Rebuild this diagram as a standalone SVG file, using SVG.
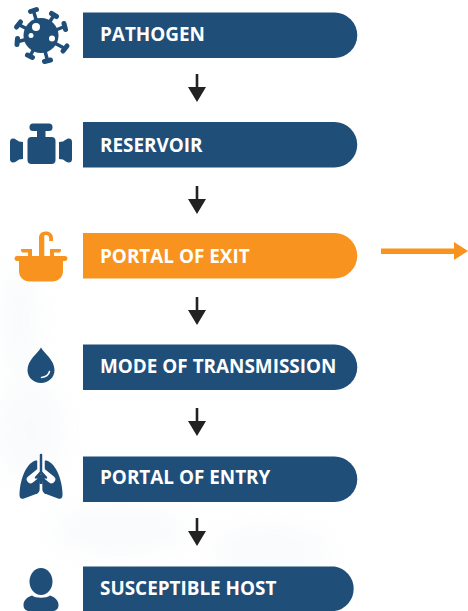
<svg xmlns="http://www.w3.org/2000/svg" width="468" height="611" viewBox="0 0 468 611">
<style>
.bar{fill:#1f4e79}
.icon{fill:#1f4e79}
.hole{fill:#fff}
.org{fill:#f7931e}
.lbl{font-family:"Open Sans","Liberation Sans",sans-serif;font-weight:700;font-size:18.900px;fill:#fff}
.spike{stroke:#1f4e79;stroke-width:3.500;stroke-linecap:round;fill:none}
.cap{stroke:#1f4e79;stroke-width:5;stroke-linecap:round;fill:none}
</style>
<defs>
<path id="bar" d="M83 0H334.500A22.500 22.500 0 0 1 334.500 45.500H83Z"/>
<g id="down"><path d="M-1.300 0H1.300V13H9L0 28L-9 13H-1.300Z" fill="#222"/></g>
<filter id="soft" x="-30%" y="-30%" width="160%" height="160%"><feGaussianBlur stdDeviation="12"/></filter>
</defs>
<rect width="468" height="611" fill="#fff"/>
<g id="background" filter="url(#soft)" fill="#dfe5ee" opacity="0.16">
<ellipse cx="20" cy="320" rx="18" ry="60"/>
<ellipse cx="30" cy="430" rx="35" ry="50"/>
<ellipse cx="120" cy="530" rx="70" ry="25"/>
<ellipse cx="270" cy="550" rx="60" ry="25"/>
</g>
<g id="connectors">
<use href="#down" x="197" y="74"/>
<use href="#down" x="197" y="186"/>
<use href="#down" x="197" y="297"/>
<use href="#down" x="197" y="408"/>
<use href="#down" x="197" y="518"/>
<path class="org" d="M381 248.500H454V242L468 251L454 260V254H381Z"/>
</g>
<g id="pathogen">
<use href="#bar" class="bar" y="12.500"/>
<text class="lbl" x="100" y="40.700">PATHOGEN</text>
<g>
<path class="spike" d="M41 36L33.500 11M41 36L54 15M41 36L64.500 26.500M41 36L65 48.500M41 36L47.500 60.500M41 36L30 56M41 36L18 41.500M41 36L18.500 24.500"/>
<path class="cap" d="M30.500 11.500L36.500 9.500M51.500 13.500L56.500 16.500M64 23.500L65.500 29.500M63 51L67 46M44.500 61.500L50.500 60M27.500 55L32.500 57.500M17.500 38.500L17 44.500M16.500 27L20.500 22"/>
<circle class="icon" cx="41" cy="35.500" r="17.500"/>
<circle class="hole" cx="36" cy="27" r="4"/>
<circle class="hole" cx="31" cy="35.500" r="2.500"/>
<circle class="hole" cx="52" cy="38.500" r="3"/>
</g>
</g>
<g id="reservoir">
<use href="#bar" class="bar" y="122"/>
<text class="lbl" x="100" y="151.500">RESERVOIR</text>
<g class="icon">
<rect x="29.500" y="123.500" width="23" height="7.500" rx="3.500"/>
<rect x="37" y="129" width="8.500" height="10"/>
<rect x="27.500" y="137" width="28" height="27" rx="4"/>
<path d="M13 138.500C15.500 138.500 17 140.500 19 141.500L23 142V159L19 159.500C17 160.500 15.500 162.500 13 162.500C11 162.500 10 161 10 159V142C10 140 11 138.500 13 138.500Z"/>
<path d="M69 138.500C66.500 138.500 65 140.500 63 141.500L59 142V159L63 159.500C65 160.500 66.500 162.500 69 162.500C71 162.500 72 161 72 159V142C72 140 71 138.500 69 138.500Z"/>
</g>
</g>
<g id="portal-of-exit">
<use href="#bar" class="org" y="233"/>
<text class="lbl" x="100" y="262.500">PORTAL OF EXIT</text>
<g class="org">
<path d="M39 257V238C39 233.500 42 231.500 46 231.500C50 231.500 53 234 53 238V241H49.200V238.500C49.200 236 48 235 46 235C44 235 44.300 236 44.300 238.500V257Z"/>
<path d="M21 249.500C21 249 21.500 249 22 249H32V256H28V252.500H22.500C21.500 252.500 21 251 21 249.500Z"/>
<path d="M61 249.500C61 249 60.500 249 60 249H50V256H54V252.500H59.500C60.500 252.500 61 251 61 249.500Z"/>
<path d="M17 256H65C66.500 256 67.500 257 67.500 258.300C67.500 259.800 66.500 261 65 261H63V271C63 277 58.500 281.500 52 281.500H30C23.500 281.500 19 277 19 271V261H17C15.500 261 14.500 259.800 14.500 258.300C14.500 257 15.500 256 17 256Z"/>
</g>
</g>
<g id="mode-of-transmission">
<use href="#bar" class="bar" y="344.500"/>
<text class="lbl" x="100" y="373.200">MODE OF TRANSMISSION</text>
<path class="icon" d="M41 347.500C44 353 54.500 360 54.500 370C54.500 377.500 48.500 383 41 383C33.500 383 27.500 377.500 27.500 370C27.500 360 38 353 41 347.500Z"/>
<path d="M41.500 377.500C45.500 377 48.500 375.500 49.500 371.500" fill="none" stroke="#fff" stroke-width="1.500" stroke-linecap="round"/>
</g>
<g id="portal-of-entry">
<use href="#bar" class="bar" y="456.500"/>
<text class="lbl" x="100" y="484.300">PORTAL OF ENTRY</text>
<g>
<path class="icon" d="M35.500 460.500C25 464 19.500 482 19.500 495C19.500 498 21 499.500 24 498.500L36 494C38.500 493 39.800 491.500 39.800 489V465C39.800 462 38 460 35.500 460.500Z"/>
<path class="icon" d="M46.500 460.500C57 464 62.500 482 62.500 495C62.500 498 61 499.500 58 498.500L46 494C43.500 493 42.200 491.500 42.200 489V465C42.200 462 44 460 46.500 460.500Z"/>
<path d="M41 459V471L30.500 479.500M41 471L51.500 479.500" fill="none" stroke="#fff" stroke-width="7.500" stroke-linecap="round" stroke-linejoin="round"/>
<path d="M41 455V472L36 477.500M41 472L46 477.500" fill="none" stroke="#1f4e79" stroke-width="2.500" stroke-linecap="round" stroke-linejoin="round"/>
<path d="M36 476.500L38 479.500C39 481 39.800 481.500 39.800 483V486H42.200V483C42.200 481.500 43 481 44 479.500L46 476.500L41 474Z" class="icon"/>
<path d="M41 484V499" stroke="#fff" stroke-width="2.400" fill="none"/>
</g>
</g>
<g id="susceptible-host">
<path class="bar" d="M83 566.500H334.500A22.500 22.500 0 0 1 334.500 611H83Z"/>
<text class="lbl" x="100" y="595">SUSCEPTIBLE HOST</text>
<g class="icon">
<ellipse cx="41" cy="581.500" rx="11.500" ry="13.500"/>
<path d="M32 595.500C35.500 598.500 46.500 598.500 50 595.500C55 597 58.500 600.500 58.500 605C58.500 609 56 611 52 611H30C26 611 23.500 609 23.500 605C23.500 600.500 27 597 32 595.500Z"/>
</g>
</g>
</svg>
